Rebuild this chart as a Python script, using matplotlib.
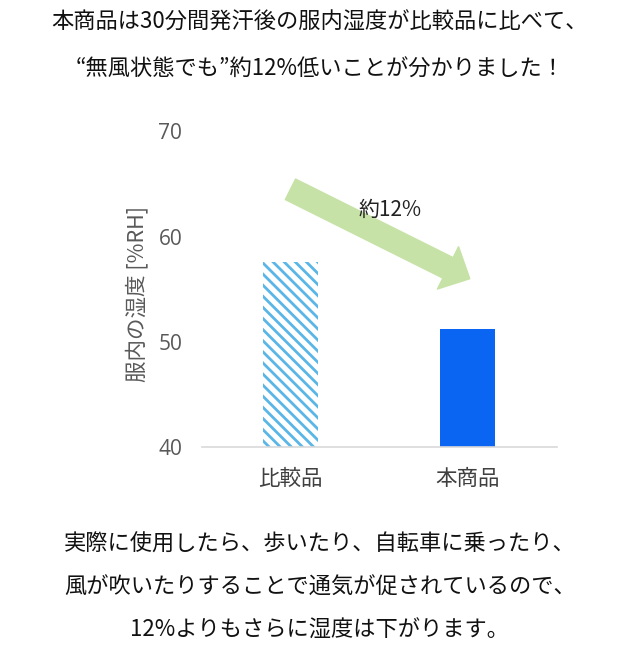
import numpy as np
import matplotlib.pyplot as plt

plt.rcParams['font.family'] = ['Noto Sans CJK JP', 'DejaVu Sans']
plt.rcParams['hatch.linewidth'] = 2.0
plt.rcParams['hatch.color'] = '#5ab6e6'

# データ
categories = ['比較品', '本商品']
humidity = [57.6, 51.2]          # 服内の湿度 [%RH]
yticks = [40, 50, 60, 70]

title_lines = ['本商品は30分間発汗後の服内湿度が比較品に比べて、',
               '“無風状態でも”約12%低いことが分かりました！']
note_lines = ['実際に使用したら、歩いたり、自転車に乗ったり、',
              '風が吹いたりすることで通気が促されているので、',
              '12%よりもさらに湿度は下がります。']

fig = plt.figure(figsize=(6.4, 6.63), dpi=100)
ax = fig.add_axes([0.3152, 0.3258, 0.5547, 0.4759])

x = np.arange(len(categories))
ax.bar(x[0], humidity[0], width=0.31, color='white',
       edgecolor='#5ab6e6', hatch='\\\\\\', linewidth=0)
ax.bar(x[1], humidity[1], width=0.31, color='#0a66f2', linewidth=0)

ax.set_xlim(-0.5, 1.5)
ax.set_ylim(40, 70)
ax.set_yticks(yticks)
ax.set_xticks(x)
ax.set_xticklabels(categories, fontsize=15.5, color='#404040')
ax.tick_params(axis='x', length=0, pad=15)
ax.tick_params(axis='y', length=0, pad=14, labelsize=15, labelcolor='#595959')
for lab in ax.get_yticklabels():
    lab.set_family(['Open Sans', 'DejaVu Sans'])

for s in ['top', 'right', 'left']:
    ax.spines[s].set_visible(False)
ax.spines['bottom'].set_color('#d9d9d9')
ax.spines['bottom'].set_linewidth(1.2)

ax.set_ylabel('服内の湿度 [%RH]', fontsize=15.5, color='#595959')
ax.yaxis.set_label_coords(-0.15, 0.485)

# 矢印
ax.annotate('', xy=(1.01, 56.0), xytext=(0.0, 64.5),
            arrowprops=dict(arrowstyle='simple,head_length=1.75,head_width=3.4,tail_width=1.65',
                            mutation_scale=10, color='#c6e2a6', shrinkA=0, shrinkB=0))
ax.text(0.56, 62.5, '約12%', fontsize=15, ha='center', va='center', color='#222222')

for i, t in enumerate(title_lines):
    fig.text(0.5, 1 - (22.5 + 47 * i) / 663, t, fontsize=16, ha='center', va='center',
             color='#111111')
for i, t in enumerate(note_lines):
    fig.text(0.5, 1 - (544 + 43 * i) / 663, t, fontsize=16, ha='center', va='center',
             color='#111111')

fig.savefig('out.png', dpi=100)
